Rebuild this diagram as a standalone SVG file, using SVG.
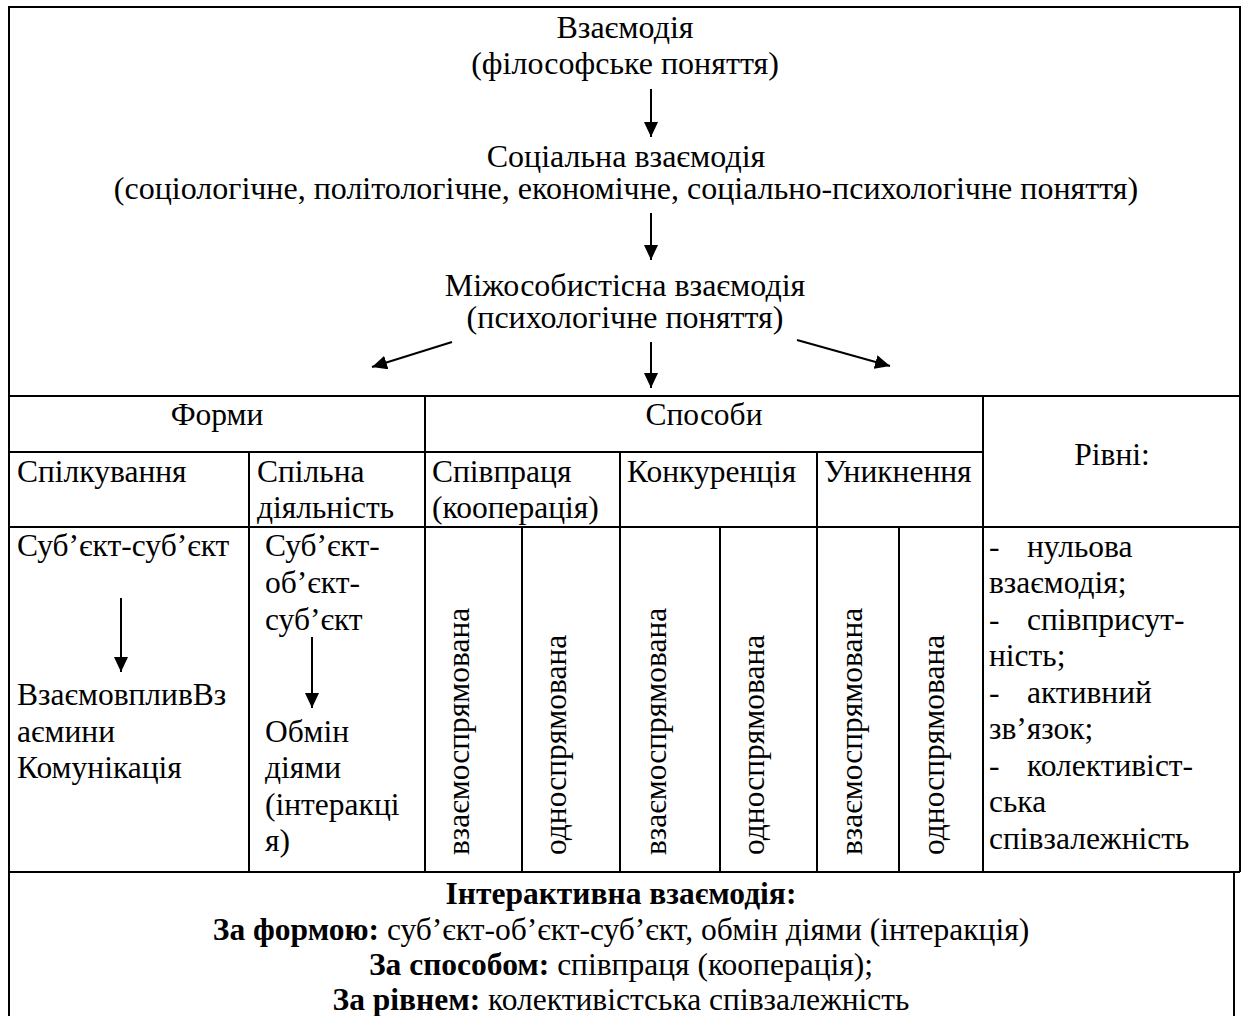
<svg xmlns="http://www.w3.org/2000/svg" width="1242" height="1016" viewBox="0 0 1242 1016">
<style>
text{font-family:"Liberation Serif","Times New Roman",serif;font-size:31.5px;fill:#000}
.t{font-size:32px}
.c{text-anchor:middle}
.b{font-weight:bold}
.ln{stroke:#000;stroke-width:2;fill:none}
.ar{stroke:#000;stroke-width:2;fill:none;marker-end:url(#ah)}
</style>
<defs>
<marker id="ah" markerUnits="userSpaceOnUse" markerWidth="16" markerHeight="14" refX="15" refY="7" orient="auto">
<path d="M0,0 L15,7 L0,14 z" fill="#000"/>
</marker>
</defs>
<rect x="0" y="0" width="1242" height="1016" fill="#fff"/>
<g id="grid">
<path class="ln" d="M9,1016 V7 H1240 V872 M1234,872 V1016"/>
<path class="ln" d="M9,396 H1240 M9,452 H983 M9,527 H1240 M9,872 H1240"/>
<path class="ln" d="M425,396 V872 M983,396 V872 M249,452 V872 M620,452 V872 M817,452 V872 M522,527 V872 M720,527 V872 M899,527 V872"/>
</g>
<g id="n1"><text class="c t" x="625" y="37.5">Взаємодія</text><text class="c t" x="625" y="74">(філософське поняття)</text></g>
<g id="n2"><text class="c t" x="626" y="167">Соціальна взаємодія</text><text class="c t" x="626" y="199">(соціологічне, політологічне, економічне, соціально-психологічне поняття)</text></g>
<g id="n3"><text class="c t" x="625" y="296">Міжособистісна взаємодія</text><text class="c t" x="625" y="328">(психологічне поняття)</text></g>
<g id="connectors">
<line class="ar" x1="651" y1="89" x2="651" y2="137"/>
<line class="ar" x1="651" y1="213" x2="651" y2="260"/>
<line class="ar" x1="651" y1="342" x2="651" y2="388"/>
<line class="ar" x1="452" y1="342" x2="372" y2="367"/>
<line class="ar" x1="797" y1="340" x2="890" y2="366"/>
<line class="ar" x1="121" y1="598" x2="121" y2="672"/>
<line class="ar" x1="312" y1="637" x2="312" y2="708"/>
</g>
<g id="h-forms"><text class="c" x="217" y="425">Форми</text></g>
<g id="h-ways"><text class="c" x="704" y="425">Способи</text></g>
<g id="h-levels"><text class="c" x="1112" y="465">Рівні:</text></g>
<g id="h-comm"><text x="17" y="482">Спілкування</text></g>
<g id="h-joint"><text x="257" y="482">Спільна</text><text x="257" y="518">діяльність</text></g>
<g id="h-coop"><text x="432" y="482">Співпраця</text><text x="432" y="518">(кооперація)</text></g>
<g id="h-comp"><text x="627" y="482">Конкуренція</text></g>
<g id="h-avoid"><text x="824" y="482">Уникнення</text></g>
<g id="c-comm">
<text x="17" y="556">Суб’єкт-суб’єкт</text>
<text x="17" y="705">ВзаємовпливВз</text>
<text x="17" y="741.5">аємини</text>
<text x="17" y="778">Комунікація</text>
</g>
<g id="c-joint">
<text x="265" y="556">Суб’єкт-</text>
<text x="265" y="593">об’єкт-</text>
<text x="265" y="629.5">суб’єкт</text>
<text x="265" y="741.5">Обмін</text>
<text x="265" y="778">діями</text>
<text x="265" y="814.5">(інтеракці</text>
<text x="265" y="851">я)</text>
</g>
<g id="c-vert">
<text transform="translate(469,855) rotate(-90)">взаємоспрямована</text>
<text transform="translate(566,855) rotate(-90)">односпрямована</text>
<text transform="translate(666,855) rotate(-90)">взаємоспрямована</text>
<text transform="translate(764,855) rotate(-90)">односпрямована</text>
<text transform="translate(862,855) rotate(-90)">взаємоспрямована</text>
<text transform="translate(944,855) rotate(-90)">односпрямована</text>
</g>
<g id="c-levels">
<text x="989" y="556.5">-</text><text x="1027" y="556.5">нульова</text>
<text x="989" y="593">взаємодія;</text>
<text x="989" y="629.5">-</text><text x="1027" y="629.5">співприсут-</text>
<text x="989" y="666">ність;</text>
<text x="989" y="702.5">-</text><text x="1027" y="702.5">активний</text>
<text x="989" y="739">зв’язок;</text>
<text x="989" y="775.5">-</text><text x="1027" y="775.5">колективіст-</text>
<text x="989" y="812">ська</text>
<text x="989" y="848.5">співзалежність</text>
</g>
<g id="summary">
<text class="c b" x="621" y="904">Інтерактивна взаємодія:</text>
<text class="c" x="621" y="940"><tspan class="b">За формою:</tspan> суб’єкт-об’єкт-суб’єкт, обмін діями (інтеракція)</text>
<text class="c" x="621" y="975"><tspan class="b">За способом:</tspan> співпраця (кооперація);</text>
<text class="c" x="621" y="1010"><tspan class="b">За рівнем:</tspan> колективістська співзалежність</text>
</g>
</svg>
